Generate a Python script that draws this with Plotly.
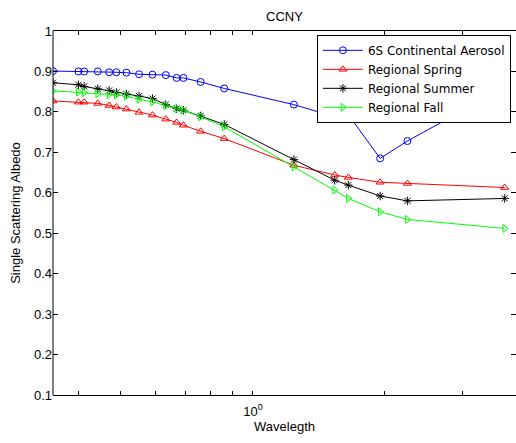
import plotly.graph_objects as go

wavelength = [0.35, 0.4, 0.4123, 0.4427, 0.47, 0.4881, 0.5145, 0.55, 0.59, 0.6328,
              0.67, 0.6943, 0.76, 0.86, 1.24, 1.536, 1.65, 1.95, 2.25, 3.75]

continental = [0.901, 0.900, 0.900, 0.900, 0.898, 0.898, 0.897, 0.893, 0.892, 0.891,
               0.884, 0.884, 0.874, 0.858, 0.818, 0.788, 0.793, 0.685, 0.728, 0.860]
spring = [0.827, 0.824, 0.824, 0.821, 0.816, 0.812, 0.807, 0.799, 0.792, 0.782,
          0.774, 0.767, 0.752, 0.734, 0.668, 0.644, 0.638, 0.626, 0.623, 0.613]
summer = [0.872, 0.867, 0.863, 0.857, 0.853, 0.848, 0.844, 0.839, 0.833, 0.818,
          0.808, 0.804, 0.790, 0.769, 0.682, 0.631, 0.619, 0.592, 0.580, 0.586]
fall = [0.852, 0.849, 0.848, 0.845, 0.843, 0.842, 0.839, 0.831, 0.825, 0.815,
        0.808, 0.804, 0.788, 0.763, 0.664, 0.607, 0.586, 0.553, 0.534, 0.512]

series_names = ["6S Continental Aerosol", "Regional Spring", "Regional Summer", "Regional Fall"]
series_values = [continental, spring, summer, fall]
series_colors = ["#0000ff", "#ff0000", "#000000", "#00ff00"]
series_symbols = ["circle-open", "triangle-up-open", "asterisk-open", "triangle-right-open"]

x_major_ticks = [1]
x_major_text = ["10<sup>0</sup>"]
x_minor_ticks = [0.4, 0.5, 0.6, 0.7, 0.8, 0.9, 2, 3]
y_tickvals = [0.1, 0.2, 0.3, 0.4, 0.5, 0.6, 0.7, 0.8, 0.9, 1.0]
y_ticktext = ["0.1", "0.2", "0.3", "0.4", "0.5", "0.6", "0.7", "0.8", "0.9", "1"]

FONT = "Liberation Sans, Arial, sans-serif"
LEGEND_FONT = "DejaVu Sans, sans-serif"

fig = go.Figure()
for name, vals, col, sym in zip(series_names, series_values, series_colors, series_symbols):
    fig.add_trace(go.Scatter(
        x=wavelength, y=vals, name=name, mode="lines+markers",
        line=dict(color=col, width=1),
        marker=dict(symbol=sym, size=7, color=col, line=dict(color=col, width=1)),
    ))

fig.update_layout(
    width=516, height=443,
    margin=dict(l=53, r=0, t=31, b=48),
    paper_bgcolor="white", plot_bgcolor="white",
    font=dict(family=FONT, size=13, color="#000000"),
    title=dict(text="CCNY", x=0.5, xref="paper", xanchor="center",
               y=1 - 16.5 / 443, yanchor="middle", font=dict(size=13)),
    showlegend=True,
    legend=dict(x=0.989, y=0.9895, xanchor="right", yanchor="top",
                bgcolor="white", bordercolor="black", borderwidth=1,
                font=dict(family=LEGEND_FONT, size=12), itemwidth=40, tracegroupgap=0),
    xaxis=dict(type="log", range=[-0.4559, 0.5998],
               tickvals=x_major_ticks, ticktext=x_major_text,
               ticks="inside", ticklen=4, tickcolor="black",
               minor=dict(tickvals=x_minor_ticks, ticks="inside", ticklen=4,
                          tickcolor="black", showgrid=False),
               showline=True, linecolor="black", linewidth=1, mirror="ticks",
               showgrid=False, zeroline=False,
               tickfont=dict(size=13), ticklabelstandoff=4,
               title=dict(text="Wavelegth", font=dict(size=13), standoff=0)),
    yaxis=dict(range=[0.1, 1.0],
               tickvals=y_tickvals, ticktext=y_ticktext,
               ticks="inside", ticklen=5, tickcolor="black",
               showline=False, mirror="ticks",
               showgrid=False, zeroline=False,
               tickfont=dict(size=13),
               title=dict(text="Single Scattering Albedo", font=dict(size=13), standoff=10)),
    shapes=[dict(type="line", xref="paper", yref="paper", x0=0, x1=0, y0=0, y1=1,
                 line=dict(color="black", width=1), layer="above")],
)

fig.write_html("out.html")
